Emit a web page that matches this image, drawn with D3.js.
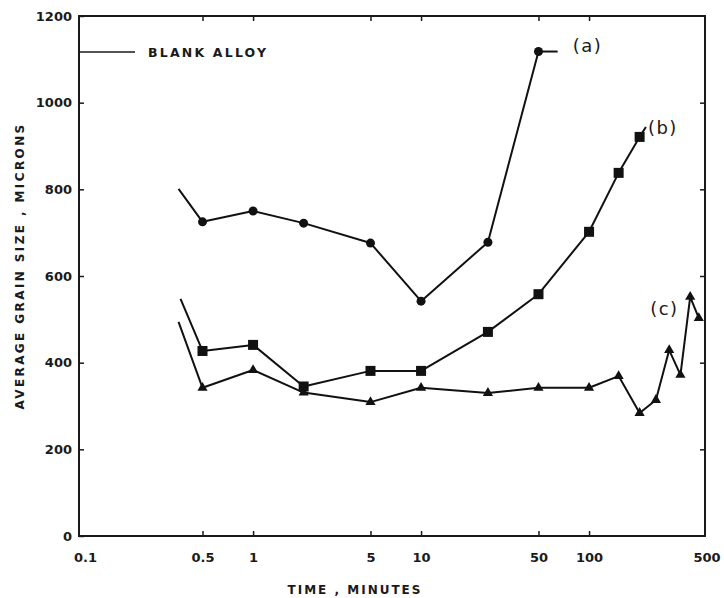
<!DOCTYPE html>
<html>
<head>
<meta charset="utf-8">
<script src="https://cdn.jsdelivr.net/npm/d3@7"></script>
<style>
  body { margin: 0; background: #fff; }
  svg { display: block; }
  text { font-family: "DejaVu Sans", sans-serif; fill: #1a1a1a; }
</style>
</head>
<body>
<div id="chart"></div>
<script>
// grain size vs annealing time
const timesA = [0.36, 0.5, 1, 2, 5, 10, 25, 50];
const grainA = [801, 725, 750, 722, 676, 542, 678, 1118];

const timesB = [0.37, 0.5, 1, 2, 5, 10, 25, 50, 100, 150, 200];
const grainB = [547, 427, 441, 345, 381, 381, 471, 558, 702, 838, 921];

const timesC = [0.36, 0.5, 1, 2, 5, 10, 25, 50, 100, 150, 200, 250, 300, 350, 400, 450];
const grainC = [494, 342, 383, 331, 309, 342, 330, 342, 342, 369, 284, 314, 429, 372, 552, 503];

// short leader line after the last point, then the curve label
const curveNames = ["(a)", "(b)", "(c)"];
const leaderEnds = [[65, 1118], [218, 944], null];
const labelAt = [[80, 1133], [224, 944], [231, 526]];

const xTicks = [0.1, 0.5, 1, 5, 10, 50, 100, 500];
const yTicks = [0, 200, 400, 600, 800, 1000, 1200];

const W = 724, H = 598;
const plot = { left: 79, right: 705, top: 16, bottom: 536 };

const svg = d3.select("#chart")
    .append("svg")
    .attr("width", W)
    .attr("height", H);

const x = d3.scaleLog()
    .domain([0.092, 490])
    .range([plot.left, plot.right]);

const y = d3.scaleLinear()
    .domain([0, 1200])
    .range([plot.bottom, plot.top]);

// axes, ticks pointing inward on all four sides
const fmtX = d => d === 0.1 ? "0.1" : d === 0.5 ? "0.5" : String(d);
const innerX = xTicks.slice(1, -1);

// tick labels only (corner values have no tick mark)
svg.append("g")
    .attr("class", "labels")
    .attr("transform", `translate(0,${plot.bottom})`)
    .call(d3.axisBottom(x).tickValues(xTicks).tickSize(0).tickPadding(17).tickFormat(fmtX));

svg.append("g")
    .attr("transform", `translate(0,${plot.bottom})`)
    .call(d3.axisBottom(x).tickValues(innerX).tickSizeInner(-5).tickSizeOuter(0).tickFormat(""));

svg.append("g")
    .attr("transform", `translate(0,${plot.top})`)
    .call(d3.axisTop(x).tickValues(innerX).tickSizeInner(-5).tickSizeOuter(0).tickFormat(""));

svg.append("g")
    .attr("transform", `translate(${plot.left},0)`)
    .call(d3.axisLeft(y).tickValues(yTicks).tickSizeInner(-5).tickSizeOuter(0).tickPadding(7).tickFormat(d3.format("d")));

svg.append("g")
    .attr("transform", `translate(${plot.right},0)`)
    .call(d3.axisRight(y).tickValues(yTicks.slice(1, -1)).tickSizeInner(-5).tickSizeOuter(0).tickFormat(""));

svg.selectAll(".domain").remove();
svg.selectAll(".tick line").attr("stroke", "#1a1a1a").attr("stroke-width", 1.5);
svg.selectAll(".tick text")
    .style("font-size", "13px")
    .style("font-weight", "bold");

// frame
svg.append("rect")
    .attr("x", plot.left)
    .attr("y", plot.top)
    .attr("width", plot.right - plot.left)
    .attr("height", plot.bottom - plot.top)
    .attr("fill", "none")
    .attr("stroke", "#1a1a1a")
    .attr("stroke-width", 2);

// axis titles
svg.append("text")
    .attr("x", 355)
    .attr("y", 594)
    .attr("text-anchor", "middle")
    .style("font-size", "12px")
    .style("font-weight", "bold")
    .style("letter-spacing", "2px")
    .text("TIME , MINUTES");

svg.append("text")
    .attr("transform", "translate(24,266) rotate(-90)")
    .attr("text-anchor", "middle")
    .style("font-size", "12px")
    .style("font-weight", "bold")
    .style("letter-spacing", "2.4px")
    .text("AVERAGE GRAIN SIZE , MICRONS");

// legend
svg.append("line")
    .attr("x1", plot.left).attr("x2", 135)
    .attr("y1", 52).attr("y2", 52)
    .attr("stroke", "#1a1a1a").attr("stroke-width", 1.5);

svg.append("text")
    .attr("x", 148)
    .attr("y", 57)
    .style("font-size", "12.5px")
    .style("font-weight", "bold")
    .style("letter-spacing", "2.2px")
    .text("BLANK ALLOY");

const line = d3.line()
    .x(d => x(d[0]))
    .y(d => y(d[1]));

const series = [
    d3.zip(timesA, grainA),
    d3.zip(timesB, grainB),
    d3.zip(timesC, grainC)
];

series.forEach(function (pts, i) {
    svg.append("path")
        .datum(pts)
        .attr("fill", "none")
        .attr("stroke", "#111")
        .attr("stroke-width", 2)
        .attr("stroke-linejoin", "round")
        .attr("d", line);

    if (leaderEnds[i]) {
        svg.append("path")
            .datum([pts[pts.length - 1], leaderEnds[i]])
            .attr("fill", "none")
            .attr("stroke", "#111")
            .attr("stroke-width", 2)
            .attr("d", line);
    }

    // first reading of each curve has no marker
    const marked = pts.slice(1);
    const g = svg.append("g").attr("fill", "#111");
    if (i === 0) {
        g.selectAll("circle").data(marked).join("circle")
            .attr("cx", d => x(d[0]))
            .attr("cy", d => y(d[1]))
            .attr("r", 4.5);
    } else if (i === 1) {
        g.selectAll("rect").data(marked).join("rect")
            .attr("x", d => x(d[0]) - 5)
            .attr("y", d => y(d[1]) - 5)
            .attr("width", 10)
            .attr("height", 10);
    } else {
        g.selectAll("path").data(marked).join("path")
            .attr("transform", d => `translate(${x(d[0])},${y(d[1])})`)
            .attr("d", d3.symbol(d3.symbolTriangle, 45));
    }

    svg.append("text")
        .attr("x", x(labelAt[i][0]))
        .attr("y", y(labelAt[i][1]) + 7)
        .style("font-size", "18px")
        .style("letter-spacing", "1.5px")
        .text(curveNames[i]);
});
</script>
</body>
</html>
